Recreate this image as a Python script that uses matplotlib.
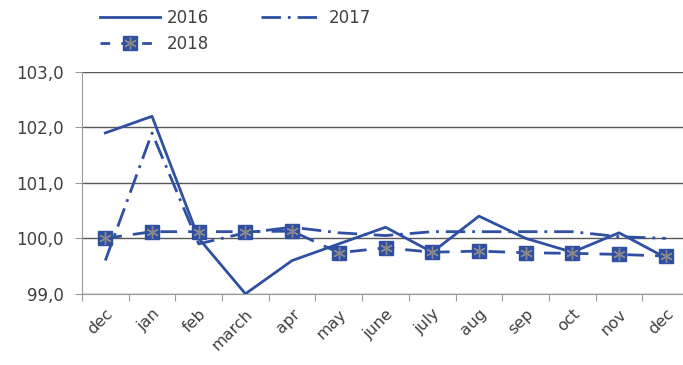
import matplotlib
matplotlib.use("Agg")
import matplotlib.pyplot as plt
from matplotlib.ticker import FuncFormatter, FixedLocator
from matplotlib.lines import Line2D

months = ["dec", "jan", "feb", "march", "apr", "may", "june", "july",
          "aug", "sep", "oct", "nov", "dec"]
y2016 = [101.9, 102.2, 100.0, 99.0, 99.6, 99.9, 100.2, 99.75, 100.4, 100.0, 99.75, 100.1, 99.65]
y2017 = [99.6, 101.9, 99.9, 100.1, 100.2, 100.1, 100.05, 100.12, 100.12, 100.12, 100.12, 100.03, 100.0]
y2018 = [100.0, 100.12, 100.12, 100.12, 100.13, 99.74, 99.83, 99.75, 99.77, 99.74, 99.73, 99.71, 99.68]

blue = "#2F4FA2"
grid_col = "#595959"
axis_col = "#9A9A9A"
text_col = "#404040"

plt.rcParams["font.family"] = ["DejaVu Sans"]

fig = plt.figure(figsize=(6.83, 3.65), dpi=100)
ax = fig.add_axes([0.120, 0.195, 0.889, 0.608])

x = list(range(len(months)))
dash_dot = (7, 2.5, 1, 2.5)
dashed = (6, 4)
l16, = ax.plot(x, y2016, color=blue, lw=2.0, label="2016", zorder=3)
l17, = ax.plot(x, y2017, color=blue, lw=2.0, dashes=dash_dot, label="2017", zorder=3)
l18, = ax.plot(x, y2018, color=blue, lw=2.0, dashes=dashed, marker="s", markersize=9.5,
               markerfacecolor=blue, markeredgecolor=blue, label="2018", zorder=4)
# grey asterisk drawn inside each square marker
ax.plot(x, y2018, ls="none", marker=(6, 2, 0), markersize=9, markeredgecolor="#8A8A8A",
        markeredgewidth=1.0, zorder=5)

ax.set_xlim(-0.5, len(months) - 0.5)
ax.set_ylim(99.0, 103.0)
ax.yaxis.set_major_locator(FixedLocator([99, 100, 101, 102, 103]))
ax.yaxis.set_major_formatter(FuncFormatter(lambda v, p: f"{v:.1f}".replace(".", ",")))
ax.yaxis.grid(True, color=grid_col, lw=1.0)
ax.set_axisbelow(True)

ax.set_xticks([i - 0.5 for i in range(len(months) + 1)])
ax.set_xticklabels([])
ax.set_xticks(x, minor=True)
ax.set_xticklabels(months, minor=True, rotation=45, ha="right", rotation_mode="anchor",
                   fontsize=11.5, color=text_col)
ax.tick_params(axis="x", which="major", length=5, color=axis_col, direction="out")
ax.tick_params(axis="x", which="minor", length=0, pad=9)
ax.tick_params(axis="y", length=5, color=axis_col, labelsize=12, labelcolor=text_col, pad=8)

for s in ["top", "right"]:
    ax.spines[s].set_visible(False)
ax.spines["left"].set_color(axis_col)
ax.spines["bottom"].set_color(axis_col)

h18 = (Line2D([], [], color=blue, lw=2.0, dashes=(3.5, 4), marker="s", markersize=9.5,
              markerfacecolor=blue, markeredgecolor=blue),
       Line2D([], [], ls="none", marker=(6, 2, 0), markersize=9, markeredgecolor="#8A8A8A",
              markeredgewidth=1.0))
leg = fig.legend([l16, h18, l17], ["2016", "2018", "2017"], ncol=2,
                 loc="upper left", bbox_to_anchor=(0.146, 0.975), frameon=False,
                 borderpad=0, borderaxespad=0,
                 fontsize=12, handlelength=3.6, columnspacing=3.1, labelspacing=0.45,
                 handletextpad=0.45)
for t in leg.get_texts():
    t.set_color(text_col)

fig.savefig("out.png", dpi=100)
